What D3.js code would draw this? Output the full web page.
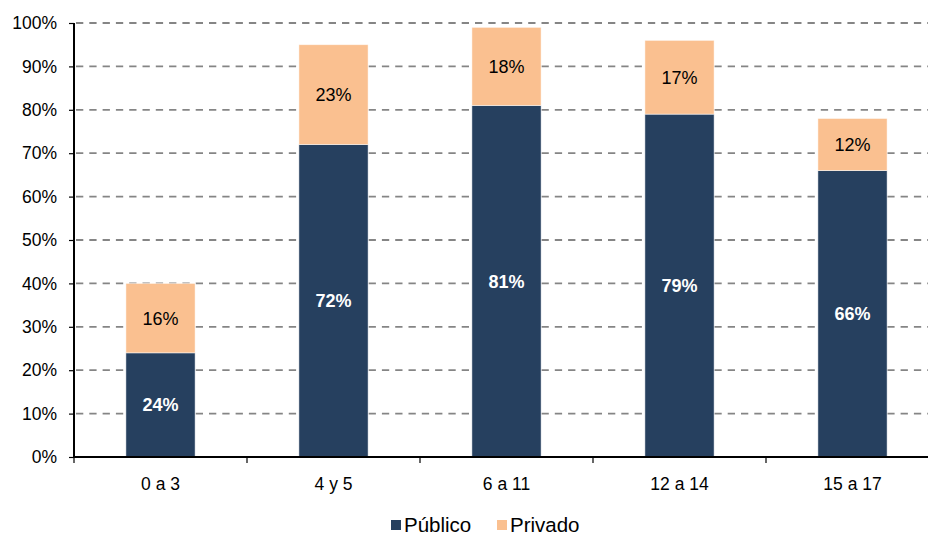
<!DOCTYPE html>
<html>
<head>
<meta charset="utf-8">
<script src="https://cdn.jsdelivr.net/npm/d3@7"></script>
<style>
  html, body { margin: 0; padding: 0; background: #fff; }
  svg { display: block; font-family: "Liberation Sans", Arial, sans-serif; }
</style>
</head>
<body>
<svg id="chart" width="928" height="535"></svg>
<script>
// Age groups and the share of each group enrolled in public / private schooling (%)
const categories = ["0 a 3", "4 y 5", "6 a 11", "12 a 14", "15 a 17"];
const publico = [24, 72, 81, 79, 66];
const privado = [16, 23, 18, 17, 12];
const seriesNames = ["Público", "Privado"];
const yTicks = [0, 10, 20, 30, 40, 50, 60, 70, 80, 90, 100];

const colors = { "Público": "#26405f", "Privado": "#fac090" };

const svg = d3.select("#chart");
const plotLeft = 74, plotRight = 939, plotTop = 23, plotBottom = 457;

const x = d3.scaleBand().domain(categories).range([plotLeft, plotRight])
  .paddingInner(0.6).paddingOuter(0.3);
const y = d3.scaleLinear().domain([0, 100]).range([plotBottom, plotTop]);

const rows = categories.map((c, i) => ({ cat: c, "Público": publico[i], "Privado": privado[i] }));
const stacked = d3.stack().keys(seriesNames)(rows);

// dashed horizontal gridlines
svg.append("g").selectAll("line")
  .data(yTicks.filter(t => t > 0))
  .join("line")
  .attr("x1", plotLeft + 2).attr("x2", 928)
  .attr("y1", d => y(d)).attr("y2", d => y(d))
  .attr("stroke", "#858585").attr("stroke-width", 1.8)
  .attr("stroke-dasharray", "7.3,6");

// stacked bars
const layers = svg.append("g").selectAll("g")
  .data(stacked)
  .join("g")
  .attr("fill", d => colors[d.key]);

layers.selectAll("rect")
  .data(d => d)
  .join("rect")
  .attr("x", d => x(d.data.cat))
  .attr("width", x.bandwidth())
  .attr("y", d => y(d[1]))
  .attr("height", d => y(d[0]) - y(d[1]))
  .attr("stroke", "#ffffff").attr("stroke-width", 0.8).attr("stroke-opacity", 0.6);

// value labels inside each segment
stacked.forEach(layer => {
  const isPub = layer.key === "Público";
  svg.append("g").selectAll("text")
    .data(layer)
    .join("text")
    .attr("x", d => x(d.data.cat) + x.bandwidth() / 2)
    .attr("y", d => (y(d[0]) + y(d[1])) / 2)
    .attr("dy", "0.36em")
    .attr("text-anchor", "middle")
    .attr("font-size", 18)
    .attr("font-weight", isPub ? "bold" : "normal")
    .attr("fill", isPub ? "#ffffff" : "#000000")
    .text(d => (d[1] - d[0]) + "%");
});

// y axis
const yAxis = d3.axisLeft(y).tickValues(yTicks).tickSize(5).tickPadding(12)
  .tickFormat(d => d + "%");
const gy = svg.append("g").attr("transform", `translate(${plotLeft},0)`).call(yAxis);
gy.select(".domain").remove();
gy.selectAll(".tick line").attr("stroke", "#000").attr("stroke-width", 1.2);
gy.selectAll(".tick text").attr("font-size", 17.5).attr("fill", "#000")
  .attr("font-family", "Liberation Sans, Arial, sans-serif");
svg.append("line").attr("x1", plotLeft).attr("x2", plotLeft)
  .attr("y1", plotTop).attr("y2", plotBottom)
  .attr("stroke", "#000").attr("stroke-width", 2);

// x axis: labels centred under bars, tick marks on band boundaries
const xAxis = d3.axisBottom(x).tickSize(0).tickPadding(21);
const gx = svg.append("g").attr("transform", `translate(0,${plotBottom})`).call(xAxis);
gx.select(".domain").remove();
gx.selectAll(".tick text").attr("font-size", 17.5).attr("fill", "#000")
  .attr("font-family", "Liberation Sans, Arial, sans-serif");
const boundaries = categories.map(c => x(c) - x.step() * x.paddingOuter());
svg.append("g").selectAll("line")
  .data(boundaries)
  .join("line")
  .attr("x1", d => d).attr("x2", d => d)
  .attr("y1", plotBottom).attr("y2", plotBottom + 6)
  .attr("stroke", "#000").attr("stroke-width", 1.2);
svg.append("line").attr("x1", plotLeft).attr("x2", 928)
  .attr("y1", plotBottom).attr("y2", plotBottom)
  .attr("stroke", "#000").attr("stroke-width", 2);

// legend
const legend = svg.append("g");
const legendItems = [
  { key: "Público", x: 391 },
  { key: "Privado", x: 497 }
];
legendItems.forEach(it => {
  legend.append("rect").attr("x", it.x).attr("y", 520).attr("width", 10).attr("height", 10)
    .attr("fill", colors[it.key]);
  legend.append("text").attr("x", it.x + 13).attr("y", 532)
    .attr("font-size", 20.5).attr("fill", "#000").text(it.key);
});
</script>
</body>
</html>
